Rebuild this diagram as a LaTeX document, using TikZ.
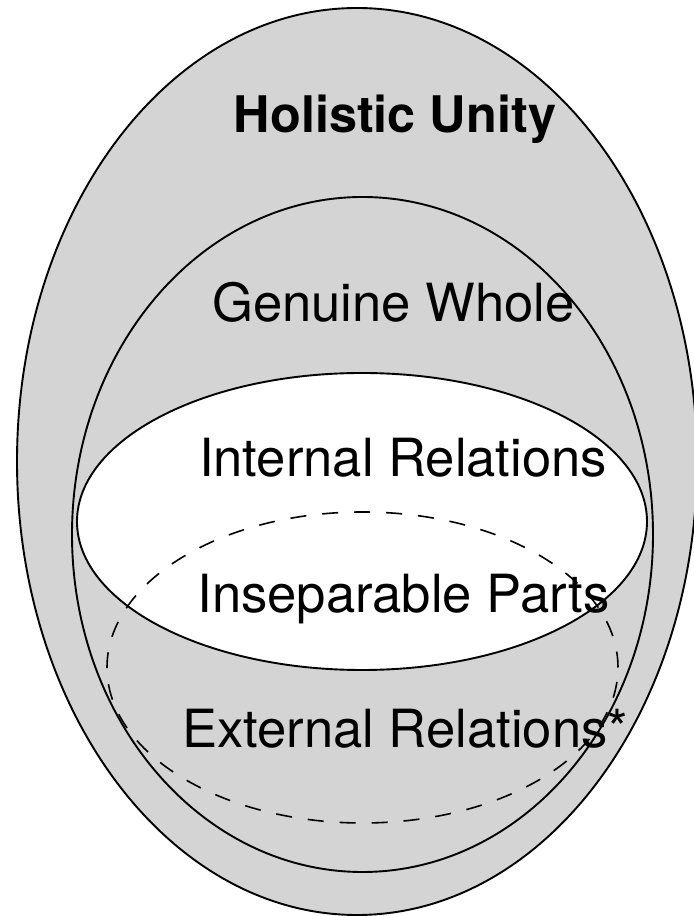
\documentclass[tikz,border=0pt]{standalone}
\usepackage{fontspec}
\setmainfont{TeX Gyre Heros}
\definecolor{regiongray}{RGB}{212,212,212}

\begin{document}
\begin{tikzpicture}[x=0.5pt,y=0.5pt,
    region/.style={draw=black, line width=0.95pt, fill=regiongray},
    core/.style={draw=black, line width=0.95pt, fill=white},
    outside/.style={draw=black, line width=0.8pt, dash pattern=on 8pt off 8pt},
    lbl/.style={anchor=base, inner sep=0pt, font=\fontsize{26.3}{30}\selectfont},
    title/.style={lbl, font=\fontsize{25.2}{30}\selectfont\bfseries}]
        \useasboundingbox (0,0) rectangle (693,916);
        % nested regions
        \draw[region] (357,454.5) ellipse [x radius=340, y radius=453.5];
        \draw[region] (362.5,381.5) ellipse [x radius=290.5, y radius=337.5];
        \draw[core] (362,394.5) ellipse [x radius=285, y radius=148.5];
        \draw[outside] (362.5,248.5) ellipse [x radius=255.5, y radius=155.5];

        \node[title] (unity) at (395,783) {Holistic Unity};
        \node[lbl] (whole) at (393.5,594) {Genuine Whole};
        \node[lbl] (internal) at (403,439) {Internal Relations};
        \node[lbl] (parts) at (403.5,303) {Inseparable Parts};
        \node[lbl] (external) at (405,168) {External Relations*};
    \end{tikzpicture}
\end{document}
